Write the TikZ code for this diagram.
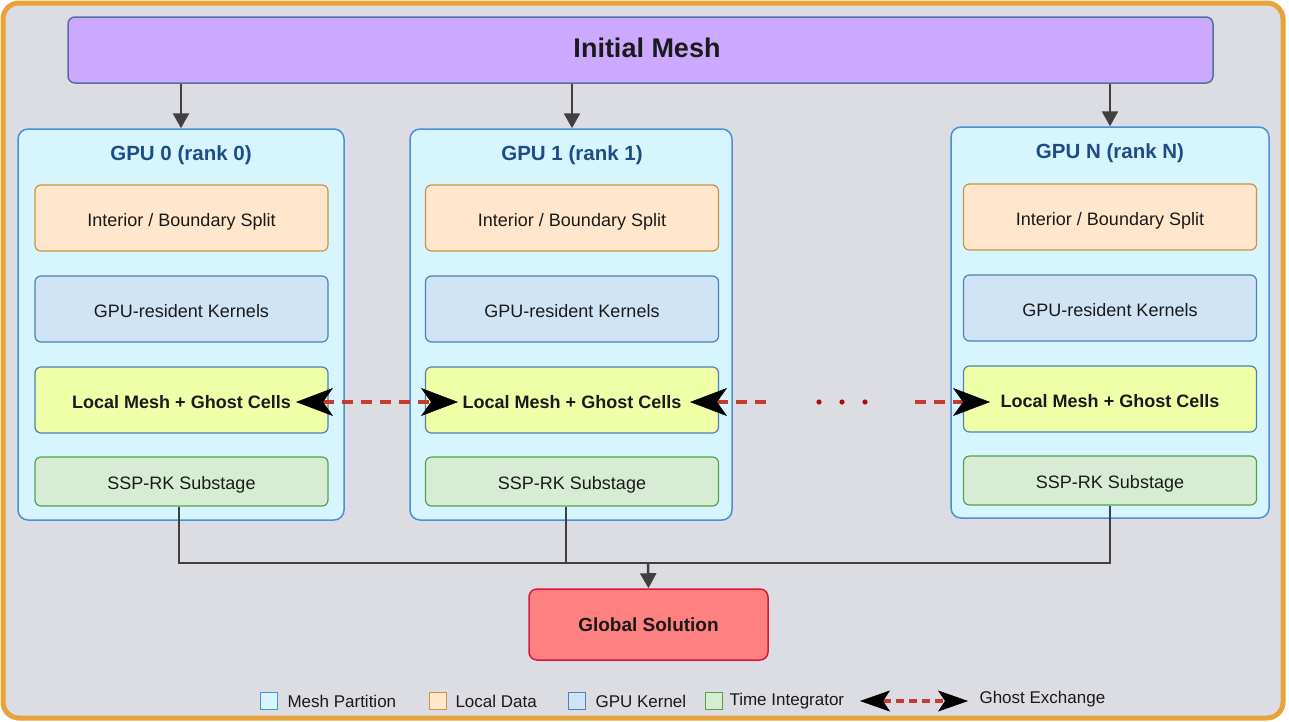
\documentclass[tikz,border=0pt]{standalone}
\usepackage{fontspec}
\setmainfont{Liberation Sans}
\usetikzlibrary{arrows.meta}

\definecolor{frameorange}{HTML}{E8A33C}
\definecolor{bggray}{HTML}{DCDCE3}
\definecolor{meshfill}{HTML}{CCA9FF}
\definecolor{meshdraw}{HTML}{56709E}
\definecolor{gpufill}{HTML}{D6F5FF}
\definecolor{gpudraw}{HTML}{4A8FD8}
\definecolor{titleblue}{HTML}{1E4D86}
\definecolor{datafill}{HTML}{FFE6CC}
\definecolor{datadraw}{HTML}{CC9340}
\definecolor{kernfill}{HTML}{D1E4F6}
\definecolor{kerndraw}{HTML}{4E80BA}
\definecolor{lmfill}{HTML}{EEFFA8}
\definecolor{rkfill}{HTML}{D7EDD3}
\definecolor{rkdraw}{HTML}{5A9E48}
\definecolor{solfill}{HTML}{FF8080}
\definecolor{soldraw}{HTML}{DD1538}
\definecolor{ghostred}{HTML}{C93A2E}
\definecolor{dotred}{HTML}{B00C0C}
\definecolor{linegray}{HTML}{404040}
\definecolor{textdark}{HTML}{1A1A1A}

\begin{document}
\begin{tikzpicture}[x=1pt, y=-1pt,
    every node/.style={text=textdark, font=\fontsize{18}{21}\selectfont},
    meshbox/.style={draw=meshdraw, fill=meshfill, line width=1.5pt, rounded corners=7pt,
        minimum width=1145pt, minimum height=66pt},
    meshtitle/.style={font=\fontsize{27}{31}\selectfont\bfseries},
    gpubox/.style={draw=gpudraw, fill=gpufill, line width=1.5pt, rounded corners=10pt,
        minimum height=391pt},
    gputitle/.style={text=titleblue, font=\fontsize{20.5}{24}\selectfont\bfseries},
    stagebox/.style={line width=1.2pt, rounded corners=6pt, minimum width=293pt, minimum height=66pt,
        text height=16.5pt, text depth=0pt},
    databox/.style={stagebox, draw=datadraw, fill=datafill},
    kernbox/.style={stagebox, draw=kerndraw, fill=kernfill},
    lmbox/.style={stagebox, draw=kerndraw, fill=lmfill, font=\fontsize{18}{21}\selectfont\bfseries},
    rkbox/.style={stagebox, draw=rkdraw, fill=rkfill, minimum height=49pt},
    solbox/.style={draw=soldraw, fill=solfill, line width=1.5pt, rounded corners=8pt,
        minimum width=239pt, minimum height=71pt, font=\fontsize{19}{22}\selectfont\bfseries},
    flow/.style={draw=linegray, line width=2.5pt, -{Triangle[length=15pt,width=16pt]}},
    bus/.style={draw=linegray, line width=2pt},
    ghost/.style={draw=ghostred, line width=4pt, dash pattern=on 11pt off 8pt},
    ghosthead/.tip={Stealth[length=37pt,width=28pt,inset=10pt,line width=0.5pt,black]},
    ghosthead small/.tip={Stealth[length=30pt,width=21pt,inset=7pt,line width=0.5pt,black]},
    keybox/.style={line width=1.2pt, minimum width=17pt, minimum height=17pt, inner sep=0pt},
    keytext/.style={anchor=west, font=\fontsize{17}{20}\selectfont}
]
\useasboundingbox (0,0) rectangle (1289,721);
\draw[draw=frameorange, line width=5pt, fill=bggray, rounded corners=16pt] (3,3) rectangle (1283,718);

% mesh on top
\node[meshbox] (mesh) at (640.5,50) {};
\node[meshtitle] (meshlabel) at (647,48) {Initial Mesh};

% one box per rank
\node[gpubox, minimum width=326pt] (gpu0) at (181,324.5) {};
\node[gpubox, minimum width=322pt] (gpu1) at (571,324.5) {};
\node[gpubox, minimum width=318pt] (gpuN) at (1110,322.5) {};

\node[gputitle] (t0) at (181,155) {GPU 0 (rank 0)};
\node[gputitle] (t1) at (572,155) {GPU 1 (rank 1)};
\node[gputitle] (tN) at (1110,153) {GPU N (rank N)};

\node[databox] (split0) at (181.5,218) {Interior / Boundary Split};
\node[kernbox] (kern0) at (181.5,309) {GPU-resident Kernels};
\node[lmbox] (lm0) at (181.5,400) {Local Mesh + Ghost Cells};
\node[rkbox] (rk0) at (181.5,481.5) {SSP-RK Substage};

\node[databox] (split1) at (572,218) {Interior / Boundary Split};
\node[kernbox] (kern1) at (572,309) {GPU-resident Kernels};
\node[lmbox] (lm1) at (572,400) {Local Mesh + Ghost Cells};
\node[rkbox] (rk1) at (572,481.5) {SSP-RK Substage};

\node[databox] (splitN) at (1110,217) {Interior / Boundary Split};
\node[kernbox] (kernN) at (1110,308) {GPU-resident Kernels};
\node[lmbox] (lmN) at (1110,399) {Local Mesh + Ghost Cells};
\node[rkbox] (rkN) at (1110,480.5) {SSP-RK Substage};

\node[solbox] (sol) at (648.5,624.5) {Global Solution};

% scatter
\draw[flow] (mesh.south -| gpu0.north) -- (gpu0.north);
\draw[flow] (mesh.south -| t1) -- (t1 |- gpu1.north);
\draw[flow] (mesh.south -| gpuN.north) -- (gpuN.north);

% ghost exchange
\coordinate (g0) at (296,402);
\coordinate (g1) at (458,402);
\coordinate (g2) at (690,402);
\coordinate (g3) at (768,402);
\coordinate (g4) at (915,402);
\coordinate (g5) at (990,402);
\draw[ghost, ghosthead-ghosthead] (g0) -- (g1);
\draw[ghost, ghosthead-] (g2) -- (g3);
\draw[ghost, -ghosthead] (g4) -- (g5);
\fill[dotred] (819,402) circle (2.6pt) (842,402) circle (2.6pt) (865,402) circle (2.6pt);

% gather
\coordinate (join) at (648,563);
\draw[bus] ([xshift=-3pt]rk0.south) -- ([xshift=-3pt]rk0.south |- join) -- (rkN.south |- join) -- (rkN.south);
\draw[bus] ([xshift=-6pt]rk1.south) -- ([xshift=-6pt]rk1.south |- join);
\draw[flow] (join) -- (sol.north);

% legend
\node[keybox, draw=gpudraw, fill=gpufill] (k1) at (269,701) {};
\node[keytext] (l1) at (284,701) {Mesh Partition};
\node[keybox, draw=datadraw, fill=datafill] (k2) at (438,701) {};
\node[keytext] (l2) at (452,701) {Local Data};
\node[keybox, draw=kerndraw, fill=kernfill] (k3) at (577,701) {};
\node[keytext] (l3) at (592,701) {GPU Kernel};
\node[keybox, draw=rkdraw, fill=rkfill] (k4) at (714,701) {};
\node[keytext] (l4) at (726,701) {Time Integrator};
\coordinate (ka) at (860,701);
\coordinate (kb) at (968,701);
\draw[draw=ghostred, line width=3.5pt, dash pattern=on 8pt off 5pt, ghosthead small-ghosthead small] (ka) -- (kb);
\node[keytext] (l5) at (976,699) {Ghost Exchange};
\end{tikzpicture}
\end{document}
